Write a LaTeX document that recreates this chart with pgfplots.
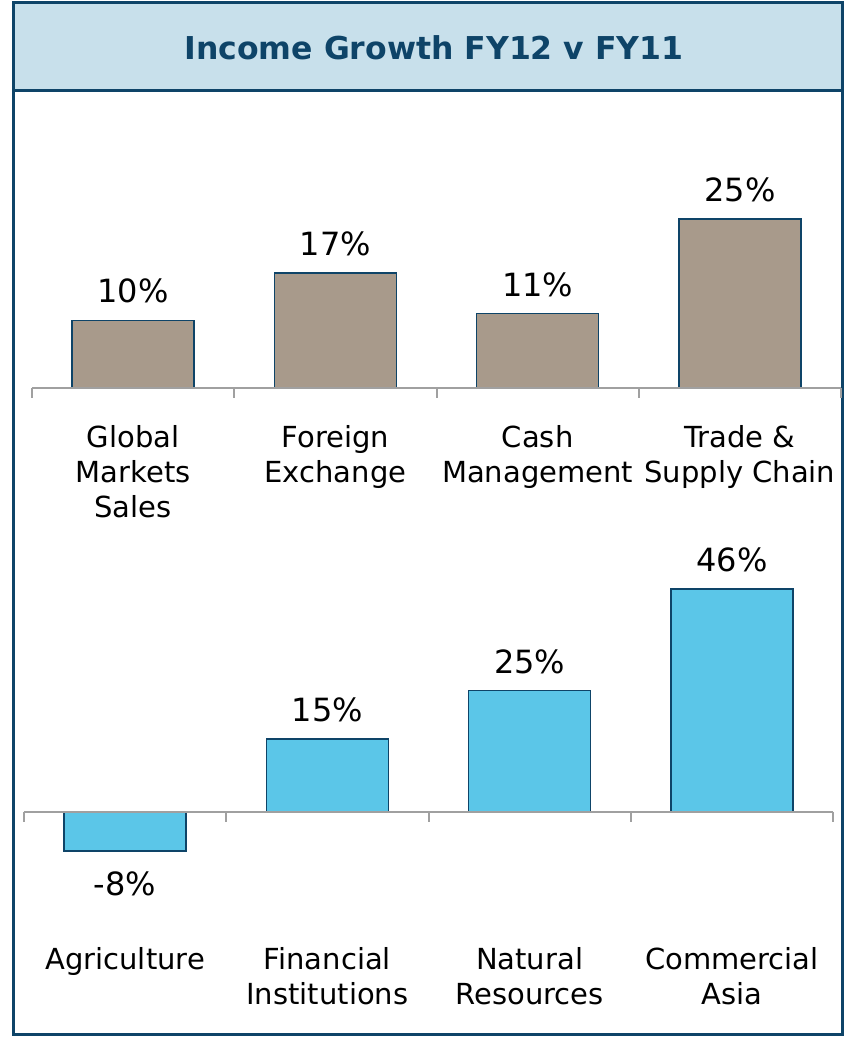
\documentclass[border=0pt]{standalone}
\usepackage{pgfplots}
\pgfplotsset{compat=1.18}
\usepackage{fontspec}
\setmainfont{DejaVu Sans}
\definecolor{navy}{HTML}{0E4468}
\definecolor{band}{HTML}{C8E0EB}
\definecolor{tanbar}{HTML}{A89A8B}
\definecolor{skybar}{HTML}{5BC6E8}
\definecolor{axgray}{HTML}{A0A0A0}
\pgfplotsset{
  mybar/.style={
    ybar, bar width=122pt, bar shift=0pt, scale only axis,
    x=202.25pt, xmin=-0.5, xmax=3.5,
    axis line style={draw=none}, ytick=\empty, xtick={0,1,2,3},
    major tick length=0pt, clip=false,
    point meta=explicit symbolic, nodes near coords,
    xticklabel style={align=center, font=\fontsize{29}{35}\selectfont, inner sep=0pt, anchor=north},
    every node near coord/.append style={font=\fontsize{32}{36}\selectfont, inner sep=0pt},
  }
}
\begin{document}
\begin{tikzpicture}
\useasboundingbox (0pt,0pt) rectangle (846pt,1037pt);
\fill[white] (0pt,0pt) rectangle (846pt,1037pt);
\fill[band] (13.5pt,946pt) rectangle (842.5pt,1034pt);
\draw[navy, line width=3pt] (13.5pt,946pt) -- (842.5pt,946pt);
\draw[navy, line width=3pt] (13.5pt,2.5pt) rectangle (842.5pt,1034pt);
\node[font=\fontsize{31.5}{36}\selectfont\bfseries, text=navy] at (434pt,989pt) {Income Growth FY12 v FY11};

\begin{axis}[mybar, y=6.75pt, ymin=0, ymax=30, anchor=south west, at={(32pt,649pt)},
  xticklabels={{Global\\Markets\\Sales},{Foreign\\Exchange},{Cash\\Management},{Trade \&\\Supply Chain}},
  xticklabel style={yshift=-37pt}]
\addplot[fill=tanbar, draw=navy, line width=1.5pt,
  nodes near coords style={anchor=base, yshift=17.5pt}]
  coordinates {(0,10) [10\%] (1,17) [17\%] (2,11) [11\%] (3,25) [25\%]};
\draw[axgray, line width=2pt] (axis cs:-0.5,0) -- (axis cs:3.5,0);
\pgfplotsinvokeforeach{-0.5,0.5,1.5,2.5,3.5}{\draw[axgray, line width=2pt] (axis cs:#1,0) -- ([yshift=-10pt]axis cs:#1,0);}
\end{axis}

\begin{axis}[mybar, y=4.85pt, ymin=-10, ymax=50, anchor=south west, at={(24pt,176.5pt)},
  xticklabels={{Agriculture},{Financial\\Institutions},{Natural\\Resources},{Commercial\\Asia}},
  xticklabel style={yshift=-86.5pt}]
\addplot[fill=skybar, draw=navy, line width=1.5pt,
  nodes near coords style={anchor=base, yshift=-45pt}]
  coordinates {(0,-8) [-8\%]};
\addplot[fill=skybar, draw=navy, line width=1.5pt,
  nodes near coords style={anchor=base, yshift=17.5pt}]
  coordinates {(1,15) [15\%] (2,25) [25\%] (3,46) [46\%]};
\draw[axgray, line width=2pt] (axis cs:-0.5,0) -- (axis cs:3.5,0);
\pgfplotsinvokeforeach{-0.5,0.5,1.5,2.5,3.5}{\draw[axgray, line width=2pt] (axis cs:#1,0) -- ([yshift=-10pt]axis cs:#1,0);}
\end{axis}
\end{tikzpicture}
\end{document}
